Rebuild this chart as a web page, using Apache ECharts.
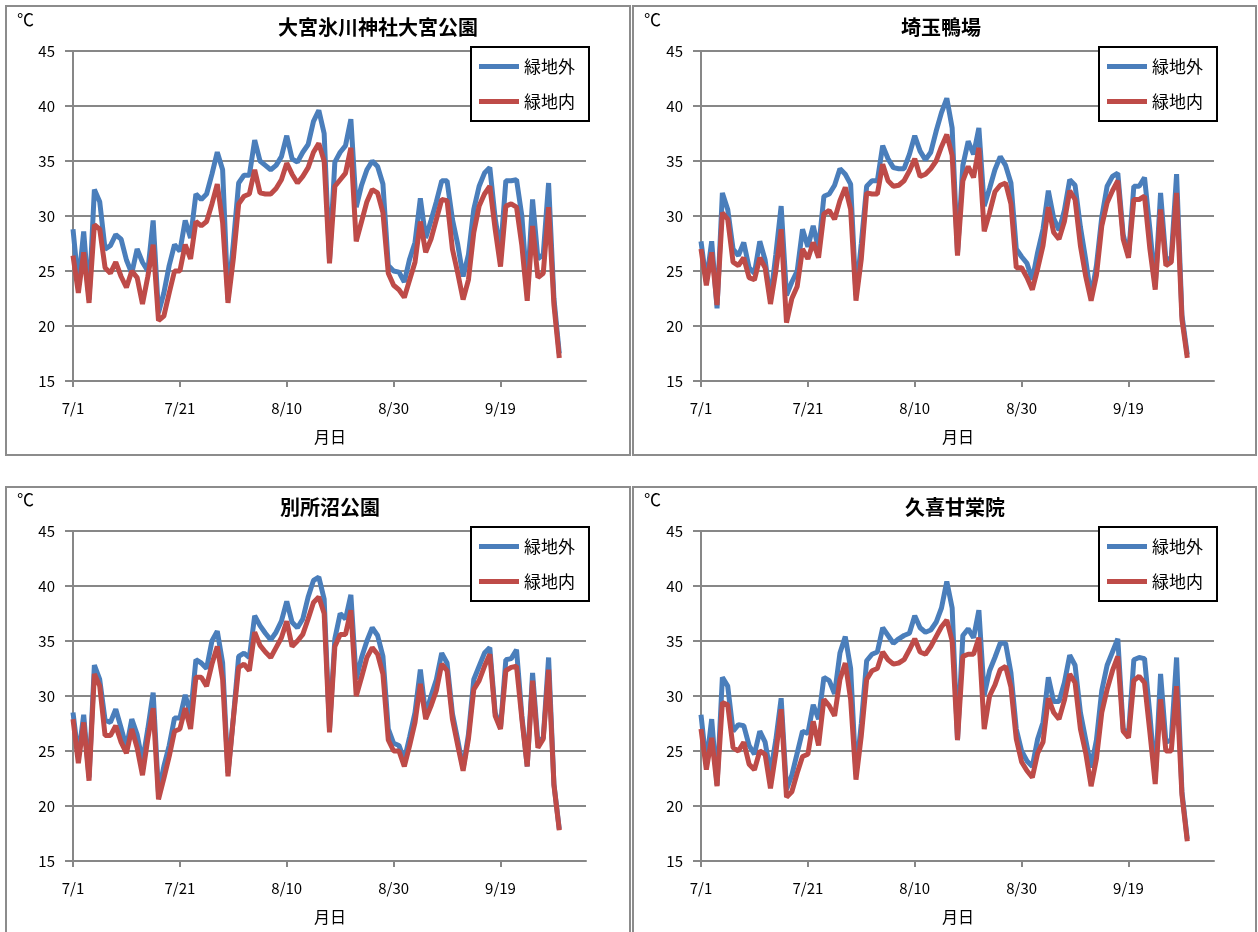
<!DOCTYPE html>
<html>
<head>
<meta charset="utf-8">
<script src="https://cdn.jsdelivr.net/npm/echarts@6/dist/echarts.min.js"></script>
<style>
html, body { margin: 0; background: #fff; }
#main { width: 1258px; height: 932px; }
</style>
</head>
<body>
<div id="main"></div>
<script>
// 測定地点
const siteNames = ['大宮氷川神社大宮公園', '埼玉鴨場', '別所沼公園', '久喜甘棠院']
const seriesNames = ['緑地外', '緑地内']

// 日最高気温 7/1〜9/30 (℃)
const omiyaOut = [28.8, 23.8, 28.6, 22.4, 32.4, 31.3, 27.0, 27.3, 28.3, 27.9, 26.0, 24.8, 27.0, 25.8, 25.0, 29.6, 21.2, 23.0, 25.5, 27.4,
    26.8, 29.6, 28.0, 32.0, 31.5, 32.0, 33.8, 35.8, 34.2, 22.4, 27.5, 33.0, 33.7, 33.7, 36.9, 35.0, 34.6, 34.2, 34.6, 35.4,
    37.3, 35.2, 34.9, 35.8, 36.5, 38.6, 39.6, 37.5, 26.0, 34.9, 35.8, 36.4, 38.8, 30.8, 32.8, 34.2, 35.0, 34.5, 32.9, 25.5,
    25.0, 24.9, 24.0, 26.1, 27.6, 31.6, 28.0, 29.6, 31.3, 33.2, 33.2, 29.7, 27.4, 24.5, 26.5, 30.6, 32.7, 33.9, 34.4, 29.8,
    26.7, 33.2, 33.2, 33.3, 30.0, 23.3, 31.5, 26.1, 26.5, 33.0, 22.5, 17.5]
const omiyaIn = [26.4, 23.0, 26.7, 22.1, 29.2, 28.8, 25.3, 24.8, 25.8, 24.5, 23.5, 25.0, 24.4, 22.0, 24.5, 27.4, 20.5, 20.9, 23.0, 25.0,
    25.0, 27.4, 26.1, 29.5, 29.1, 29.5, 31.1, 32.9, 29.4, 22.1, 26.1, 31.1, 31.8, 32.0, 34.2, 32.1, 32.0, 32.0, 32.5, 33.3,
    34.8, 33.8, 33.0, 33.6, 34.4, 35.8, 36.6, 35.0, 25.7, 32.7, 33.3, 33.9, 36.2, 27.7, 29.5, 31.3, 32.4, 32.1, 30.3, 24.8,
    23.7, 23.3, 22.6, 24.2, 25.8, 29.5, 26.7, 27.9, 29.7, 31.5, 31.4, 27.0, 24.8, 22.4, 24.2, 28.5, 30.9, 32.0, 32.7, 28.8,
    25.4, 30.9, 31.1, 30.8, 27.3, 22.3, 29.1, 24.4, 24.8, 30.8, 21.9, 17.1]

const kamobaOut = [27.7, 24.0, 27.7, 21.6, 32.1, 30.6, 27.0, 26.4, 27.6, 25.3, 24.8, 27.7, 26.0, 22.4, 26.5, 30.9, 22.8, 24.0, 25.0, 28.8,
    27.2, 29.1, 27.0, 31.8, 32.0, 32.8, 34.3, 33.8, 32.9, 22.8, 27.5, 32.7, 33.2, 33.2, 36.4, 35.2, 34.4, 34.3, 34.3, 35.6,
    37.3, 35.9, 35.1, 35.8, 37.7, 39.4, 40.7, 38.0, 26.6, 34.6, 36.8, 35.6, 38.0, 30.9, 32.5, 34.2, 35.4, 34.6, 33.0, 27.0,
    26.3, 25.7, 24.2, 26.7, 28.8, 32.3, 29.8, 28.7, 30.5, 33.3, 32.8, 29.0, 26.0, 22.6, 25.5, 29.9, 32.7, 33.6, 33.9, 28.3,
    26.4, 32.7, 32.7, 33.5, 28.8, 23.6, 32.1, 26.0, 26.2, 33.8, 21.0, 17.4]
const kamobaIn = [27.0, 23.7, 26.7, 21.9, 30.3, 29.7, 25.8, 25.5, 26.2, 24.4, 24.2, 26.2, 25.3, 22.0, 25.0, 28.8, 20.3, 22.5, 23.6, 27.0,
    26.1, 27.6, 26.2, 30.2, 30.5, 29.7, 31.4, 32.6, 30.6, 22.3, 26.1, 32.1, 32.0, 32.0, 34.7, 33.2, 32.7, 32.8, 33.2, 34.1,
    35.2, 33.6, 33.8, 34.3, 35.0, 36.3, 37.4, 35.5, 26.4, 33.2, 34.5, 33.5, 36.2, 28.6, 30.3, 32.2, 32.8, 33.0, 31.1, 25.3,
    25.3, 24.4, 23.3, 25.2, 27.3, 30.8, 28.5, 27.9, 29.5, 32.3, 31.5, 27.3, 24.5, 22.3, 24.6, 29.1, 31.2, 32.3, 33.2, 27.9,
    26.2, 31.5, 31.5, 31.8, 27.0, 23.3, 30.6, 25.5, 25.8, 32.1, 20.6, 17.1]

const bessyoOut = [28.5, 24.5, 28.3, 22.6, 32.8, 31.5, 27.8, 27.6, 28.8, 27.1, 25.3, 27.9, 26.5, 24.0, 27.0, 30.3, 21.2, 23.6, 25.5, 28.0,
    28.0, 30.1, 28.3, 33.3, 33.0, 32.5, 35.0, 35.9, 33.0, 23.0, 28.0, 33.6, 33.9, 33.5, 37.3, 36.4, 35.7, 35.1, 35.8, 36.8,
    38.6, 36.7, 36.2, 37.0, 39.0, 40.5, 40.8, 38.8, 27.0, 35.2, 37.5, 37.0, 39.2, 31.5, 33.5, 35.0, 36.2, 35.5, 33.6, 27.0,
    25.7, 25.5, 24.2, 26.3, 28.5, 32.4, 28.3, 30.0, 31.5, 33.9, 33.0, 28.4, 26.0, 23.4, 26.5, 31.5, 32.7, 33.9, 34.4, 28.5,
    27.1, 33.3, 33.4, 34.2, 28.2, 23.6, 32.1, 25.8, 26.2, 33.5, 22.0, 17.9]
const bessyoIn = [27.9, 23.9, 27.6, 22.3, 32.0, 30.9, 26.4, 26.4, 27.3, 25.8, 24.8, 27.0, 25.3, 22.8, 26.1, 28.9, 20.6, 22.5, 24.5, 26.8,
    27.0, 28.9, 27.0, 31.7, 31.7, 30.9, 32.9, 34.5, 31.5, 22.7, 27.9, 32.6, 32.9, 32.3, 35.8, 34.6, 34.0, 33.5, 34.4, 35.3,
    36.8, 34.5, 35.0, 35.6, 37.0, 38.5, 39.0, 37.5, 26.7, 34.5, 35.6, 35.6, 37.8, 30.0, 31.7, 33.5, 34.4, 33.8, 32.0, 26.0,
    25.0, 25.0, 23.6, 25.5, 27.6, 31.1, 27.9, 29.1, 30.5, 32.9, 32.3, 27.9, 25.5, 23.2, 26.1, 30.6, 31.4, 32.7, 33.8, 28.2,
    27.0, 32.3, 32.6, 32.7, 27.9, 23.6, 31.4, 25.3, 26.1, 32.4, 21.9, 17.8]

const kukiOut = [28.3, 23.8, 27.9, 21.9, 31.7, 30.9, 26.8, 27.4, 27.3, 25.5, 24.7, 26.8, 25.8, 23.0, 26.0, 29.8, 21.5, 22.8, 24.8, 26.8,
    26.6, 29.2, 27.9, 31.7, 31.4, 30.2, 33.9, 35.4, 32.5, 22.9, 27.5, 33.2, 33.8, 34.0, 36.2, 35.5, 34.8, 35.2, 35.5, 35.7,
    37.3, 36.2, 35.8, 36.0, 36.7, 38.0, 40.4, 38.0, 26.0, 35.5, 36.1, 35.3, 37.8, 30.1, 32.3, 33.5, 34.8, 34.8, 32.1, 27.0,
    25.0, 24.1, 23.6, 26.1, 27.6, 31.7, 29.5, 29.5, 31.2, 33.7, 32.8, 28.5, 26.0, 23.5, 26.0, 30.5, 32.8, 34.0, 35.2, 27.0,
    26.5, 33.3, 33.5, 33.4, 28.3, 22.5, 32.0, 25.8, 26.0, 33.5, 21.3, 17.0]
const kukiIn = [27.0, 23.3, 26.2, 21.8, 29.4, 29.2, 25.3, 25.0, 25.8, 23.8, 23.3, 25.0, 24.7, 21.6, 24.8, 28.8, 20.8, 21.3, 23.0, 24.5,
    24.7, 27.7, 25.5, 29.7, 29.1, 28.2, 31.5, 33.0, 29.7, 22.4, 26.4, 31.5, 32.3, 32.5, 34.0, 33.3, 32.9, 33.0, 33.3, 34.2,
    35.2, 34.0, 33.8, 34.5, 35.4, 36.3, 36.9, 35.0, 26.0, 33.6, 33.8, 33.8, 35.3, 27.0, 30.0, 31.0, 32.4, 32.7, 30.8, 26.1,
    24.0, 23.2, 22.6, 24.8, 25.8, 29.8, 28.5, 27.9, 29.6, 32.0, 31.2, 27.0, 24.8, 21.8, 24.3, 28.5, 30.6, 32.3, 33.6, 26.8,
    26.2, 31.4, 31.8, 31.2, 26.7, 22.0, 29.7, 25.0, 25.0, 30.9, 21.0, 16.8]

const outsideData = [omiyaOut, kamobaOut, bessyoOut, kukiOut]
const insideData = [omiyaIn, kamobaIn, bessyoIn, kukiIn]

// 横軸: 7/1 から 97 日分 (目盛は 20 日ごと)
const axisDays = 97
const dateLabels = []
for (let i = 0; i < axisDays; i++) {
    const d = new Date(2010, 6, 1 + i)
    dateLabels.push((d.getMonth() + 1) + '/' + d.getDate())
}

const FONT = '"Noto Sans CJK JP", "Noto Sans", sans-serif'
const gridColor = '#878787'

// パネル配置
const panels = [
    { left: 73, top: 51, box: [6, 6, 624, 449], titleX: 378, titleY: 27 },
    { left: 701, top: 51, box: [633, 6, 623, 449], titleX: 941, titleY: 27 },
    { left: 73, top: 531, box: [6, 487, 624, 460], titleX: 330, titleY: 507 },
    { left: 701, top: 531, box: [633, 487, 623, 460], titleX: 955, titleY: 507 }
]

const grids = []
const xAxes = []
const yAxes = []
const series = []
const legends = []
const graphics = []

panels.forEach((p, k) => {
    grids.push({ left: p.left, top: p.top, width: 513, height: 330 })
    xAxes.push({
        type: 'category',
        gridIndex: k,
        data: dateLabels,
        boundaryGap: false,
        axisLine: { lineStyle: { color: gridColor, width: 2 } },
        axisTick: { interval: 19, length: 6, lineStyle: { color: gridColor, width: 2 } },
        axisLabel: { interval: 19, color: '#000', fontSize: 15, fontFamily: FONT, margin: 20 },
        splitLine: { show: false }
    })
    yAxes.push({
        type: 'value',
        gridIndex: k,
        min: 15,
        max: 45,
        interval: 5,
        axisLine: { show: true, lineStyle: { color: gridColor, width: 2 } },
        axisTick: { show: true, length: 8, lineStyle: { color: gridColor, width: 2 } },
        axisLabel: { color: '#000', fontSize: 15, fontFamily: FONT, margin: 18 },
        splitLine: { lineStyle: { color: gridColor, width: 2 } }
    })
    series.push({
        name: seriesNames[0],
        type: 'line',
        xAxisIndex: k,
        yAxisIndex: k,
        data: outsideData[k],
        showSymbol: false,
        lineStyle: { width: 5, color: '#4A7EBB' },
        itemStyle: { color: '#4A7EBB' }
    })
    series.push({
        name: seriesNames[1],
        type: 'line',
        xAxisIndex: k,
        yAxisIndex: k,
        data: insideData[k],
        showSymbol: false,
        lineStyle: { width: 5, color: '#BE4B48' },
        itemStyle: { color: '#BE4B48' }
    })
    legends.push({
        data: seriesNames,
        orient: 'vertical',
        left: p.left + 398,
        top: p.top - 4,
        padding: [11, 14, 11, 8],
        itemGap: 18,
        itemWidth: 40,
        itemHeight: 5,
        icon: 'rect',
        backgroundColor: '#fff',
        borderColor: '#000',
        borderWidth: 2,
        textStyle: { fontSize: 17, color: '#000', fontFamily: FONT }
    })
    // 枠線
    graphics.push({
        type: 'rect',
        shape: { x: p.box[0], y: p.box[1], width: p.box[2], height: p.box[3] },
        style: { fill: null, stroke: '#8c8c8c', lineWidth: 2 },
        silent: true
    })
    // タイトル
    graphics.push({
        type: 'text',
        x: p.titleX,
        y: p.titleY,
        style: { text: siteNames[k], align: 'center', verticalAlign: 'middle', fontSize: 20, fontWeight: 'bold', fontFamily: FONT, fill: '#000' }
    })
    // 単位
    graphics.push({
        type: 'text',
        x: p.box[0] + 11,
        y: p.top - 31,
        style: { text: '℃', verticalAlign: 'middle', fontSize: 17, fontFamily: FONT, fill: '#000' }
    })
    // 軸名
    graphics.push({
        type: 'text',
        x: p.left + 257,
        y: p.top + 386,
        style: { text: '月日', align: 'center', verticalAlign: 'middle', fontSize: 16, fontFamily: FONT, fill: '#000' }
    })
})

const chart = echarts.init(document.getElementById('main'))
chart.setOption({
    animation: false,
    backgroundColor: '#fff',
    grid: grids,
    xAxis: xAxes,
    yAxis: yAxes,
    legend: legends,
    series: series,
    graphic: graphics
})
</script>
</body>
</html>
